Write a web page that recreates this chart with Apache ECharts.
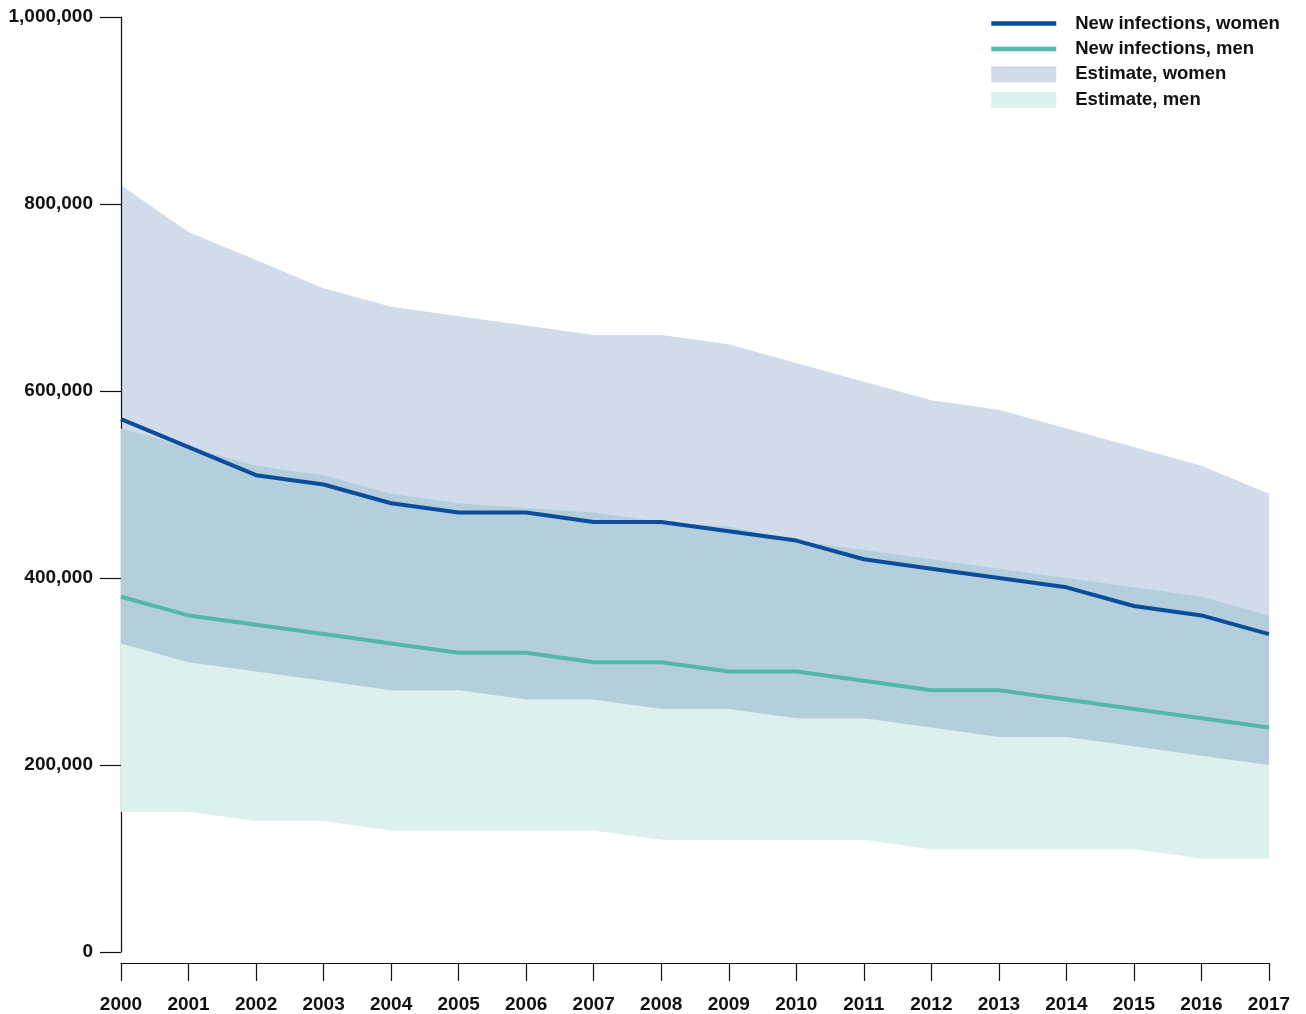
<!DOCTYPE html>
<html><head><meta charset="utf-8">
<script src="https://cdn.jsdelivr.net/npm/echarts@6/dist/echarts.min.js"></script>
<style>html,body{margin:0;padding:0;background:#fff}#c{width:1306px;height:1014px}</style>
</head><body><div id="c"></div>
<script>
const years = ['2000','2001','2002','2003','2004','2005','2006','2007','2008','2009','2010','2011','2012','2013','2014','2015','2016','2017'];
const womenNew   = [570000,540000,510000,500000,480000,470000,470000,460000,460000,450000,440000,420000,410000,400000,390000,370000,360000,340000];
const menNew     = [380000,360000,350000,340000,330000,320000,320000,310000,310000,300000,300000,290000,280000,280000,270000,260000,250000,240000];
const womenUpper = [820000,770000,740000,710000,690000,680000,670000,660000,660000,650000,630000,610000,590000,580000,560000,540000,520000,490000];
const womenLower = [330000,310000,300000,290000,280000,280000,270000,270000,260000,260000,250000,250000,240000,230000,230000,220000,210000,200000];
const menUpper   = [560000,540000,520000,510000,490000,480000,475000,470000,460000,455000,440000,430000,420000,410000,400000,390000,380000,360000];
const menLower   = [150000,150000,140000,140000,130000,130000,130000,130000,120000,120000,120000,120000,110000,110000,110000,110000,100000,100000];
const yTicks = [0,200000,400000,600000,800000,1000000];

const FONT = '"Liberation Sans", Arial, sans-serif';
const cWomenLine = '#0b4d9b';
const cMenLine = '#52b9aa';
const cMenBand = '#dcf0ed';
const cWomenBand = 'rgba(0,62,140,0.18)';

const menDiff = menUpper.map((v,i)=>v-menLower[i]);
const womenDiff = womenUpper.map((v,i)=>v-womenLower[i]);

const chart = echarts.init(document.getElementById('c'), null, {renderer:'canvas'});
chart.setOption({
  animation:false,
  backgroundColor:'#fff',
  grid:{left:121,right:37,top:17,bottom:62,containLabel:false,outerBoundsMode:'none'},
  legend:{
    orient:'vertical', left:989, top:14, padding:0,
    itemWidth:65, itemHeight:16, itemGap:6.4,
    textStyle:{fontFamily:FONT,fontWeight:'bold',fontSize:18.5,color:'#111',padding:[0,0,0,14]},
    data:[
      {name:'New infections, women', lineStyle:{width:4.5,color:cWomenLine}, itemStyle:{opacity:0}},
      {name:'New infections, men', lineStyle:{width:4.5,color:cMenLine}, itemStyle:{opacity:0}},
      {name:'Estimate, women', icon:'rect', itemStyle:{color:'#d0dcea',borderWidth:0}},
      {name:'Estimate, men', icon:'rect', itemStyle:{color:cMenBand,borderWidth:0}}
    ],
    selectedMode:false
  },
  xAxis:{
    type:'category', data:years, boundaryGap:false, offset:11,
    axisLine:{show:true,onZero:false,lineStyle:{color:'#111',width:1.2}},
    axisTick:{show:true,length:18,alignWithLabel:true,lineStyle:{color:'#111',width:1.2}},
    axisLabel:{fontFamily:FONT,fontWeight:'bold',fontSize:19,color:'#111',margin:32,interval:0},
    splitLine:{show:false}
  },
  yAxis:{
    type:'value', min:0, max:1000000, interval:200000,
    name:'Number', nameLocation:'middle', nameGap:96, nameRotate:90,
    nameTextStyle:{fontFamily:FONT,fontWeight:'bold',fontSize:18.5,color:'#111'},
    axisLine:{show:true,lineStyle:{color:'#111',width:1.2}},
    axisTick:{show:true,length:21,lineStyle:{color:'#111',width:1.2}},
    axisLabel:{fontFamily:FONT,fontWeight:'bold',fontSize:19,color:'#111',margin:28,
      formatter:v=>yTicks.includes(v)?v.toLocaleString('en-US'):''},
    splitLine:{show:false}
  },
  series:[
    {name:'menBase',type:'line',stack:'m',data:menLower,symbol:'none',lineStyle:{width:0,opacity:0},silent:true,z:1},
    {name:'Estimate, men',type:'line',stack:'m',data:menDiff,symbol:'none',lineStyle:{width:0,opacity:0},
      itemStyle:{color:cMenBand},areaStyle:{color:cMenBand,opacity:1},silent:true,z:1},
    {name:'womenBase',type:'line',stack:'w',data:womenLower,symbol:'none',lineStyle:{width:0,opacity:0},silent:true,z:2},
    {name:'Estimate, women',type:'line',stack:'w',data:womenDiff,symbol:'none',lineStyle:{width:0,opacity:0},
      itemStyle:{color:'#d0dcea'},areaStyle:{color:cWomenBand,opacity:1},silent:true,z:2},
    {name:'New infections, men',type:'line',data:menNew,symbol:'none',showSymbol:false,
      itemStyle:{color:cMenLine},lineStyle:{width:4,color:cMenLine},z:3},
    {name:'New infections, women',type:'line',data:womenNew,symbol:'none',showSymbol:false,
      itemStyle:{color:cWomenLine},lineStyle:{width:4,color:cWomenLine},z:4}
  ]
});
</script></body></html>
